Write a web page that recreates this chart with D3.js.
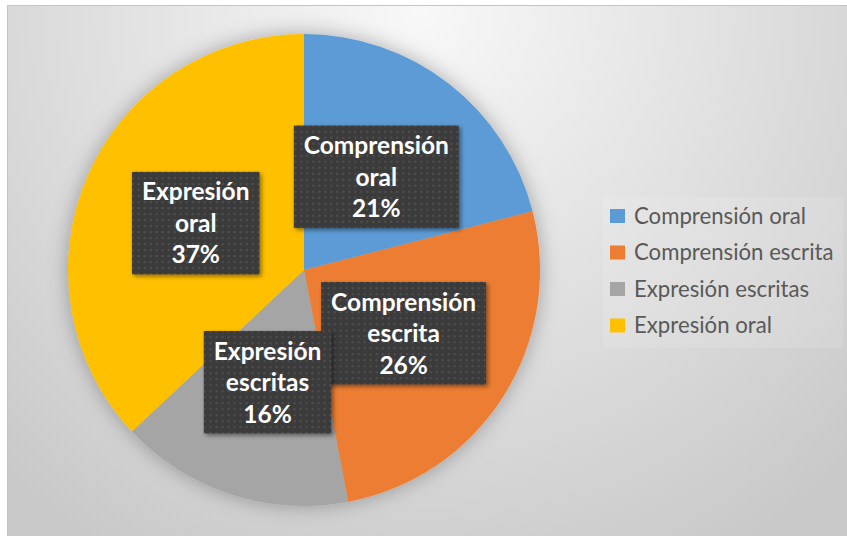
<!DOCTYPE html>
<html>
<head>
<meta charset="utf-8">
<script src="https://cdn.jsdelivr.net/npm/d3@7/dist/d3.min.js"></script>
<style>
  html, body { margin: 0; padding: 0; background: #ffffff; }
  svg { display: block; }
</style>
</head>
<body>
<svg id="chart" width="847" height="536"></svg>
<script>
// Skill shares by area
const categories = ["Comprensión oral", "Comprensión escrita", "Expresión escritas", "Expresión oral"];
const values = [21, 26, 16, 37];
const labelLines = [["Comprensión", "oral"], ["Comprensión", "escrita"], ["Expresión", "escritas"], ["Expresión", "oral"]];
const colors = ["#5B9BD5", "#ED7D31", "#A5A5A5", "#FFC000"];

const W = 847, H = 536;
const svg = d3.select("#chart");
const defs = svg.append("defs");

// Background: soft radial wash, light near the top
const bg = defs.append("radialGradient")
  .attr("id", "bgGrad")
  .attr("gradientUnits", "userSpaceOnUse")
  .attr("cx", 420).attr("cy", 10).attr("r", 620);
bg.append("stop").attr("offset", "0%").attr("stop-color", "#f8f8f8");
bg.append("stop").attr("offset", "45%").attr("stop-color", "#e3e3e3");
bg.append("stop").attr("offset", "100%").attr("stop-color", "#c9c9c9");

// Soft shadow around the pie
const pieShadow = defs.append("filter").attr("id", "pieShadow")
  .attr("x", "-20%").attr("y", "-20%").attr("width", "140%").attr("height", "140%");
pieShadow.append("feGaussianBlur").attr("in", "SourceAlpha").attr("stdDeviation", 10).attr("result", "blur");
pieShadow.append("feFlood").attr("flood-color", "#000").attr("flood-opacity", 0.3);
pieShadow.append("feComposite").attr("in2", "blur").attr("operator", "in").attr("result", "shadow");
const pm = pieShadow.append("feMerge");
pm.append("feMergeNode").attr("in", "shadow");
pm.append("feMergeNode").attr("in", "SourceGraphic");

// Shadow for the label boxes
const boxShadow = defs.append("filter").attr("id", "boxShadow")
  .attr("x", "-20%").attr("y", "-20%").attr("width", "140%").attr("height", "140%");
boxShadow.append("feGaussianBlur").attr("in", "SourceAlpha").attr("stdDeviation", 2).attr("result", "b");
boxShadow.append("feOffset").attr("in", "b").attr("dx", 2).attr("dy", 2).attr("result", "o");
boxShadow.append("feFlood").attr("flood-color", "#000").attr("flood-opacity", 0.45);
boxShadow.append("feComposite").attr("in2", "o").attr("operator", "in").attr("result", "s");
const bm = boxShadow.append("feMerge");
bm.append("feMergeNode").attr("in", "s");
bm.append("feMergeNode").attr("in", "SourceGraphic");

// Dotted fill for the label boxes
const dots = defs.append("pattern").attr("id", "dots")
  .attr("patternUnits", "userSpaceOnUse").attr("width", 6).attr("height", 6);
dots.append("rect").attr("width", 6).attr("height", 6).attr("fill", "#3b3b3b");
dots.append("circle").attr("cx", 3).attr("cy", 3).attr("r", 0.9).attr("fill", "#5a5a5a");

// Chart area
svg.append("rect")
  .attr("x", 7.5).attr("y", 5.5).attr("width", W).attr("height", H)
  .attr("fill", "url(#bgGrad)")
  .attr("stroke", "#c4c4c4").attr("stroke-width", 1);

// Pie
const cx = 304, cy = 270, radius = 236;
const pie = d3.pie().sort(null).value(d => d)(values);
const arc = d3.arc().innerRadius(0).outerRadius(radius);

const g = svg.append("g").attr("transform", `translate(${cx},${cy})`);
g.append("g").attr("filter", "url(#pieShadow)")
  .selectAll("path").data(pie).join("path")
  .attr("d", arc)
  .attr("fill", (d, i) => colors[i]);

// Data labels at slice centroids
const fontLabel = "Lato, 'Open Sans', sans-serif";
const labelSize = 24.5, lineH = 31.5;
const labels = g.selectAll("g.lbl").data(pie).join("g")
  .attr("class", "lbl")
  .attr("transform", d => `translate(${arc.centroid(d)})`);

labels.each(function (d, i) {
  const sel = d3.select(this);
  const lines = labelLines[i].concat([d3.format(".0f")(d.value) + "%"]);
  const box = sel.append("rect").attr("fill", "url(#dots)").attr("filter", "url(#boxShadow)");
  const txt = sel.append("text")
    .attr("text-anchor", "middle")
    .attr("font-family", fontLabel)
    .attr("font-weight", "bold")
    .attr("font-size", labelSize)
    .attr("fill", "#ffffff");
  const n = lines.length;
  lines.forEach((t, k) => {
    txt.append("tspan").attr("x", 0)
      .attr("y", (k - (n - 1) / 2) * lineH + labelSize * 0.36)
      .text(t);
  });
  let maxW = 0;
  txt.selectAll("tspan").each(function () { maxW = Math.max(maxW, this.getComputedTextLength()); });
  const bw = maxW + 20, bh = n * lineH + 8;
  box.attr("x", -bw / 2).attr("y", -bh / 2).attr("width", bw).attr("height", bh);
});

// Legend
const legend = svg.append("g").attr("transform", "translate(603,197)");
legend.append("rect")
  .attr("x", 0).attr("y", 0).attr("width", 240).attr("height", 151)
  .attr("fill", "#ffffff").attr("fill-opacity", 0.12);
const rowH = 36.5;
const items = legend.selectAll("g.item").data(categories).join("g")
  .attr("class", "item")
  .attr("transform", (d, i) => `translate(0,${19 + i * rowH})`);
items.append("rect")
  .attr("x", 7).attr("y", -7).attr("width", 15).attr("height", 14)
  .attr("fill", (d, i) => colors[i]);
items.append("text")
  .attr("x", 31).attr("y", 7.5)
  .attr("font-family", "Lato, 'Open Sans', sans-serif")
  .attr("font-size", 22.2)
  .attr("fill", "#595959")
  .text(d => d);
</script>
</body>
</html>
